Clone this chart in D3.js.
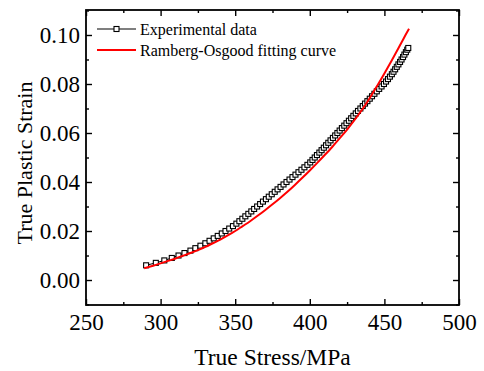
<!DOCTYPE html>
<html>
<head>
<meta charset="utf-8">
<script src="https://cdn.jsdelivr.net/npm/d3@7"></script>
<style>
  html, body { margin: 0; padding: 0; background: #fff; }
  svg { display: block; }
  text { font-family: "Liberation Serif", "Times New Roman", serif; fill: #000; }
</style>
</head>
<body>
<svg id="chart" width="484" height="371"></svg>
<script>
// ---- Data ----
const expStress = [290.3, 296.8, 302.5, 307.5, 312.0, 316.0, 320.0, 323.3, 326.7, 330.0,
  332.8, 335.6, 338.3, 341.0, 343.5, 346.0, 348.5, 350.8, 352.8, 354.8,
  356.8, 358.8, 360.8, 362.7, 364.7, 366.7, 368.6, 370.6, 372.5, 374.5,
  376.5, 378.4, 380.4, 382.4, 384.4, 386.4, 388.4, 390.4, 392.4, 394.4,
  396.4, 398.4, 400.3, 401.8, 403.3, 404.8, 406.4, 407.9, 409.4, 410.9,
  412.4, 413.9, 415.5, 417.0, 418.5, 420.0, 421.5, 423.1, 424.6, 426.2,
  427.7, 429.2, 430.8, 432.3, 433.9, 435.5, 437.0, 438.6, 440.2, 441.7,
  443.3, 444.9, 446.5, 448.1, 449.7, 451.1, 452.4, 453.7, 455.0, 456.1,
  457.2, 458.3, 459.4, 460.5, 461.5, 462.5, 463.4, 464.4, 465.3, 466.0];
const expStrain = [0.006, 0.007, 0.008, 0.009, 0.010, 0.011, 0.012, 0.013, 0.014, 0.015,
  0.016, 0.017, 0.018, 0.019, 0.020, 0.021, 0.022, 0.023, 0.024, 0.025,
  0.026, 0.027, 0.028, 0.029, 0.030, 0.031, 0.032, 0.033, 0.034, 0.035,
  0.036, 0.037, 0.038, 0.039, 0.040, 0.041, 0.042, 0.043, 0.044, 0.045,
  0.046, 0.047, 0.048, 0.049, 0.050, 0.051, 0.052, 0.053, 0.054, 0.055,
  0.056, 0.057, 0.058, 0.059, 0.060, 0.061, 0.062, 0.063, 0.064, 0.065,
  0.066, 0.067, 0.068, 0.069, 0.070, 0.071, 0.072, 0.073, 0.074, 0.075,
  0.076, 0.077, 0.078, 0.079, 0.080, 0.081, 0.082, 0.083, 0.084, 0.085,
  0.086, 0.087, 0.088, 0.089, 0.090, 0.091, 0.092, 0.093, 0.094, 0.0947];

const fitStress = [289, 295, 300, 305, 310, 315, 320, 325, 330, 335, 340, 345, 350, 355, 360, 365, 370, 375, 380,
  385, 390, 395, 400, 405, 410, 415, 420, 425, 430, 435, 440, 445, 450, 455, 460, 463, 466.5];
const fitStrain = [0.0048, 0.0058, 0.0068, 0.0078, 0.0088, 0.0099, 0.0110, 0.0122, 0.0135, 0.0150, 0.0165, 0.0182,
  0.0200, 0.0220, 0.0240, 0.0262, 0.0285, 0.0309, 0.0334, 0.0360, 0.0388, 0.0417, 0.0447, 0.0478,
  0.0510, 0.0543, 0.0578, 0.0614, 0.0653, 0.0695, 0.0741, 0.0791, 0.0843, 0.0897, 0.0953, 0.0987, 0.1025];

const xTicks = [250, 300, 350, 400, 450, 500];
const xMinor = [275, 325, 375, 425, 475];
const yTicks = [0.00, 0.02, 0.04, 0.06, 0.08, 0.10];
const yMinor = [-0.01, 0.01, 0.03, 0.05, 0.07, 0.09, 0.11];
const seriesNames = ["Experimental data", "Ramberg-Osgood fitting curve"];
const xTitle = "True Stress/MPa";
const yTitle = "True Plastic Strain";

// ---- Layout ----
const L = 86, R = 459, T = 10, B = 305;
const svg = d3.select("#chart");
const x = d3.scaleLinear().domain([250, 500]).range([L, R]);
const y = d3.scaleLinear().domain([-0.0102, 0.1102]).range([B, T]);

// axes (inward ticks)
function styleAxis(g) {
  g.select(".domain").remove();
  g.selectAll(".tick line").attr("stroke", "#000").attr("stroke-width", 1.4);
}
svg.append("g").attr("transform", `translate(0,${B})`)
  .call(d3.axisBottom(x).tickValues(xTicks).tickSize(-6).tickFormat(d3.format("d")))
  .call(styleAxis)
  .call(g => g.selectAll("text").attr("y", 25).attr("dy", 0).style("font-size", "23px"));
svg.append("g").attr("transform", `translate(0,${B})`)
  .call(d3.axisBottom(x).tickValues(xMinor).tickSize(-3).tickFormat(""))
  .call(styleAxis);
svg.append("g").attr("transform", `translate(0,${T})`)
  .call(d3.axisTop(x).tickValues(xTicks).tickSize(-6).tickFormat(""))
  .call(styleAxis);
svg.append("g").attr("transform", `translate(0,${T})`)
  .call(d3.axisTop(x).tickValues(xMinor).tickSize(-3).tickFormat(""))
  .call(styleAxis);

svg.append("g").attr("transform", `translate(${L},0)`)
  .call(d3.axisLeft(y).tickValues(yTicks).tickSize(-6).tickFormat(d3.format(".2f")))
  .call(styleAxis)
  .call(g => g.selectAll("text").attr("x", -6).attr("dy", "0.33em").style("font-size", "23px"));
svg.append("g").attr("transform", `translate(${L},0)`)
  .call(d3.axisLeft(y).tickValues(yMinor).tickSize(-3).tickFormat(""))
  .call(styleAxis);
svg.append("g").attr("transform", `translate(${R},0)`)
  .call(d3.axisRight(y).tickValues(yTicks).tickSize(-6).tickFormat(""))
  .call(styleAxis);
svg.append("g").attr("transform", `translate(${R},0)`)
  .call(d3.axisRight(y).tickValues(yMinor).tickSize(-3).tickFormat(""))
  .call(styleAxis);

// frame
svg.append("rect").attr("x", L).attr("y", T).attr("width", R - L).attr("height", B - T)
  .attr("fill", "none").attr("stroke", "#000").attr("stroke-width", 1.8);

// experimental data
const expData = expStress.map((s, i) => [s, expStrain[i]]);
const line = d3.line().x(d => x(d[0])).y(d => y(d[1]));
svg.append("path").datum(expData).attr("d", line)
  .attr("fill", "none").attr("stroke", "#000").attr("stroke-width", 1);
const ms = 5;
svg.append("g").selectAll("rect").data(expData).join("rect")
  .attr("x", d => x(d[0]) - ms / 2).attr("y", d => y(d[1]) - ms / 2)
  .attr("width", ms).attr("height", ms)
  .attr("fill", "#fff").attr("stroke", "#000").attr("stroke-width", 1.1);

// fitting curve
const fitData = fitStress.map((s, i) => [s, fitStrain[i]]);
svg.append("path").datum(fitData).attr("d", d3.line().curve(d3.curveMonotoneX).x(d => x(d[0])).y(d => y(d[1])))
  .attr("fill", "none").attr("stroke", "#ff0000").attr("stroke-width", 2);

// legend
const lg = svg.append("g");
lg.append("line").attr("x1", 97).attr("x2", 136).attr("y1", 29).attr("y2", 29)
  .attr("stroke", "#000").attr("stroke-width", 1.2);
lg.append("rect").attr("x", 116.5 - ms / 2).attr("y", 29 - ms / 2).attr("width", ms).attr("height", ms)
  .attr("fill", "#fff").attr("stroke", "#000").attr("stroke-width", 1.1);
lg.append("text").attr("x", 140).attr("y", 35).style("font-size", "16px").text(seriesNames[0]);
lg.append("line").attr("x1", 97).attr("x2", 136).attr("y1", 50).attr("y2", 50)
  .attr("stroke", "#ff0000").attr("stroke-width", 2);
lg.append("text").attr("x", 140).attr("y", 56).style("font-size", "16px").text(seriesNames[1]);

// axis titles
svg.append("text").attr("x", (L + R) / 2).attr("y", 365).attr("text-anchor", "middle")
  .style("font-size", "23.5px").text(xTitle);
svg.append("text").attr("transform", "translate(32,163) rotate(-90)").attr("text-anchor", "middle")
  .style("font-size", "22px").text(yTitle);
</script>
</body>
</html>
